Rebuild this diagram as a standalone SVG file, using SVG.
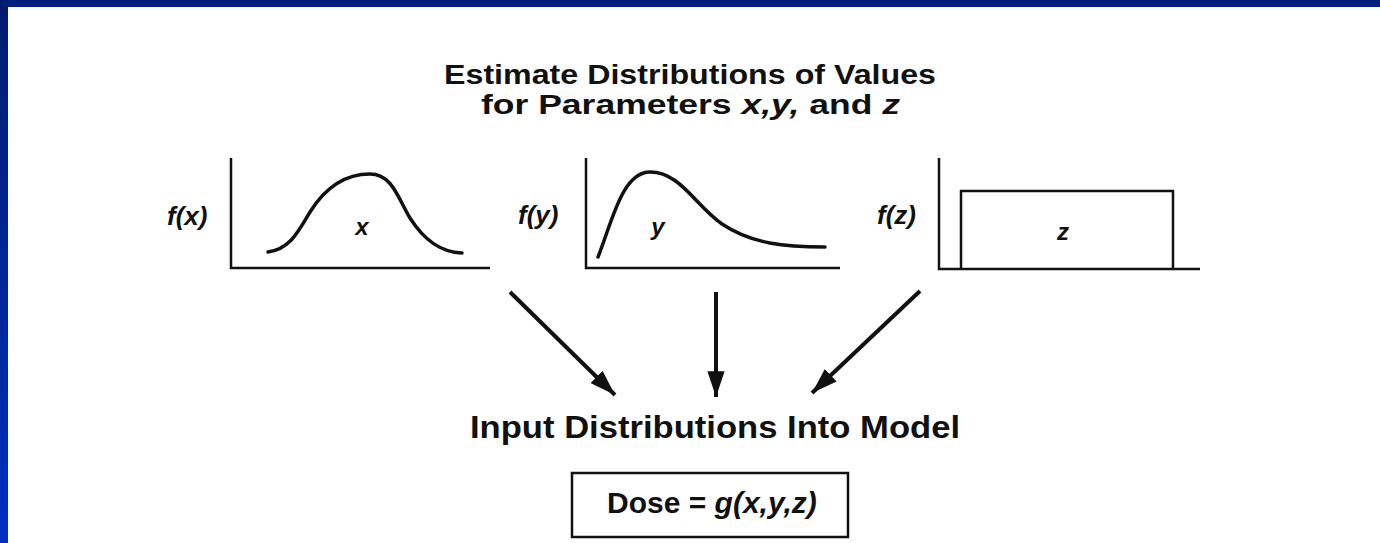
<svg xmlns="http://www.w3.org/2000/svg" width="1380" height="543" viewBox="0 0 1380 543">
<defs>
<linearGradient id="lb" x1="0" y1="0" x2="0" y2="1">
<stop offset="0" stop-color="#001c6e"/>
<stop offset="1" stop-color="#0030c0"/>
</linearGradient>
<marker id="ah" viewBox="0 0 12 8" refX="12" refY="4" markerWidth="6.5" markerHeight="4.3" orient="auto" markerUnits="strokeWidth">
<path d="M0,0 L12,4 L0,8 Z" fill="#111"/>
</marker>
<style>
.t{font-family:"Liberation Sans",Arial,sans-serif;font-weight:bold;fill:#111}
.i{font-style:italic}
.ax{fill:none;stroke:#111;stroke-width:2.5}
.cv{fill:none;stroke:#111;stroke-width:3.5;stroke-linecap:round}
.ar{stroke:#111;stroke-width:4;fill:none}
</style>
</defs>
<rect x="0" y="0" width="1380" height="543" fill="#ffffff"/>
<rect x="0" y="0" width="1380" height="7" fill="#001f7f"/>
<rect x="0" y="0" width="8" height="543" fill="url(#lb)"/>

<g id="title">
<text class="t" x="444" y="84" font-size="27" textLength="492" lengthAdjust="spacingAndGlyphs">Estimate Distributions of Values</text>
<text class="t" x="481" y="114" font-size="27" textLength="419" lengthAdjust="spacingAndGlyphs">for Parameters <tspan class="i">x,y,</tspan> and <tspan class="i">z</tspan></text>
</g>

<g id="chart-x">
<path class="ax" d="M231,158 V268 H490"/>
<path class="cv" d="M268,252 C290,249 298,232 310,212 C325,188 345,174 370,174 C392,174 398,198 410,218 C424,240 440,252 462,253"/>
<text class="t i" x="167" y="225" font-size="26">f(x)</text>
<text class="t i" x="362" y="235" font-size="24" text-anchor="middle">x</text>
</g>

<g id="chart-y">
<path class="ax" d="M586,158 V268 H840"/>
<path class="cv" d="M598,257 C612,222 622,172 650,172 C680,172 695,205 722,224 C752,244 785,247 825,247"/>
<text class="t i" x="518" y="224" font-size="26">f(y)</text>
<text class="t i" x="658" y="235" font-size="24" text-anchor="middle">y</text>
</g>

<g id="chart-z">
<path class="ax" d="M939,158 V269 H1200"/>
<path class="ax" d="M961,269 V191 H1173 V269"/>
<text class="t i" x="877" y="224" font-size="26">f(z)</text>
<text class="t i" x="1063" y="240" font-size="24" text-anchor="middle">z</text>
</g>

<g id="connectors">
<line class="ar" x1="510" y1="292" x2="615" y2="395" marker-end="url(#ah)"/>
<line class="ar" x1="716" y1="292" x2="716" y2="397" marker-end="url(#ah)"/>
<line class="ar" x1="920" y1="291" x2="812" y2="393" marker-end="url(#ah)"/>
</g>

<g id="model">
<text class="t" x="470" y="438" font-size="32" textLength="490" lengthAdjust="spacingAndGlyphs">Input Distributions Into Model</text>
</g>

<g id="dose">
<rect x="572" y="473" width="276" height="64" fill="none" stroke="#111" stroke-width="2.5"/>
<text class="t" x="607" y="513" font-size="30">Dose = <tspan class="i">g(x,y,z)</tspan></text>
</g>
</svg>
